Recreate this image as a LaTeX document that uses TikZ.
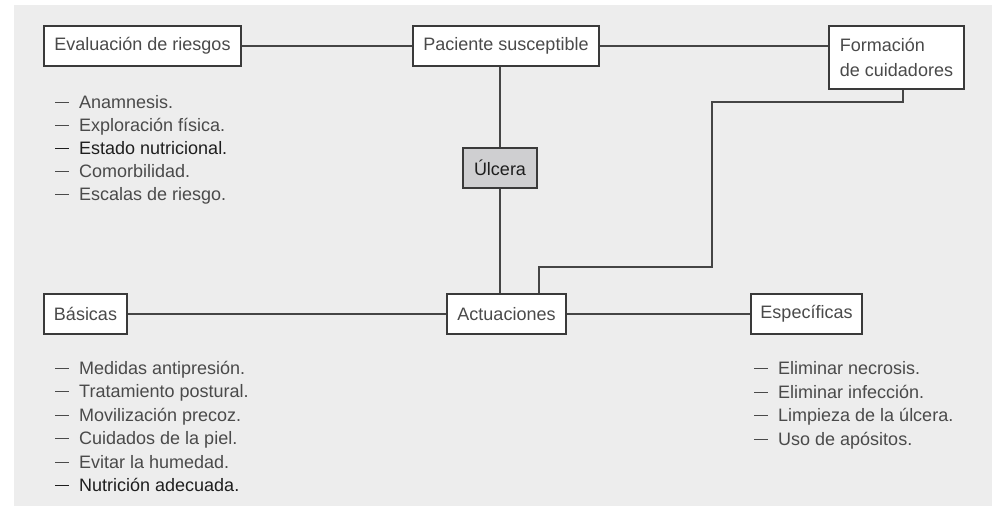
\documentclass[tikz,border=0pt]{standalone}
\usepackage{fontspec}
\setmainfont{Liberation Sans}
\definecolor{bg}{HTML}{EDEDED}
\definecolor{boxc}{HTML}{3A3A3A}
\definecolor{linec}{HTML}{454545}
\definecolor{txt}{HTML}{4A4A4A}
\definecolor{txtdark}{HTML}{1E1E1E}
\definecolor{ulc}{HTML}{CFCFD1}
\newcommand{\dashitem}[1]{\makebox[24pt][l]{\rule[5pt]{13.5pt}{1.5pt}}#1}
\begin{document}
\begin{tikzpicture}[x=1pt,y=-1pt,
  box/.style={draw=boxc, line width=1.6pt, fill=white, inner sep=0pt, text=txt,
    font=\fontsize{18}{25}\selectfont},
  conn/.style={draw=linec, line width=1.6pt},
  item/.style={anchor=base west, inner sep=0pt, text=txt, font=\fontsize{18}{22}\selectfont},
  itemdark/.style={item, text=txtdark}]
\useasboundingbox (0,0) rectangle (1000,506);
\fill[white] (0,0) rectangle (1000,506);
\fill[bg] (14,5) rectangle (992,506);

% boxes
\node[box, minimum width=197pt, minimum height=40pt] (eval) at (142.5,46) {Evaluación de riesgos};
\node[box, minimum width=186pt, minimum height=40pt] (pac) at (506,46) {Paciente susceptible};
\node[box, minimum width=135pt, minimum height=63pt, align=left] (form) at (896.5,57.5) {Formación\\de cuidadores};
\node[box, fill=ulc, text=txtdark, minimum width=74pt, minimum height=40pt] (ulc) at (500,168) {Úlcera};
\node[box, minimum width=83pt, minimum height=40pt] (bas) at (85.5,314) {Básicas};
\node[box, minimum width=119pt, minimum height=40pt] (act) at (506.5,314) {Actuaciones};
\node[box, minimum width=111pt, minimum height=40pt] (esp) at (806.5,314) {Específicas};

% connectors
\draw[conn] (eval.east) -- (pac.west);
\draw[conn] (pac.east) -- (pac.east -| form.west);
\draw[conn] (ulc.north) -- (ulc.north |- pac.south);
\draw[conn] (ulc.south) -- (ulc.south |- act.north);
\draw[conn] (bas.east) -- (act.west);
\draw[conn] (act.east) -- (esp.west);
\coordinate (f1) at (903,102);
\coordinate (f2) at (712,102);
\coordinate (f3) at (712,267);
\coordinate (f4) at (539,267);
\draw[conn] (form.south -| f1) -- (f1) -- (f2) -- (f3) -- (f4) -- (f4 |- act.north);

% list: evaluación
\node[item] (e1) at (55,108) {\dashitem{Anamnesis.}};
\node[item] (e2) at (55,131) {\dashitem{Exploración física.}};
\node[itemdark] (e3) at (55,154) {\dashitem{Estado nutricional.}};
\node[item] (e4) at (55,177) {\dashitem{Comorbilidad.}};
\node[item] (e5) at (55,200) {\dashitem{Escalas de riesgo.}};

% list: básicas
\node[item] (b1) at (55,374) {\dashitem{Medidas antipresión.}};
\node[item] (b2) at (55,397) {\dashitem{Tratamiento postural.}};
\node[item] (b3) at (55,421) {\dashitem{Movilización precoz.}};
\node[item] (b4) at (55,444) {\dashitem{Cuidados de la piel.}};
\node[item] (b5) at (55,468) {\dashitem{Evitar la humedad.}};
\node[itemdark] (b6) at (55,491) {\dashitem{Nutrición adecuada.}};

% list: específicas
\node[item] (s1) at (754,374) {\dashitem{Eliminar necrosis.}};
\node[item] (s2) at (754,398) {\dashitem{Eliminar infección.}};
\node[item] (s3) at (754,421) {\dashitem{Limpieza de la úlcera.}};
\node[item] (s4) at (754,445) {\dashitem{Uso de apósitos.}};
\end{tikzpicture}
\end{document}
